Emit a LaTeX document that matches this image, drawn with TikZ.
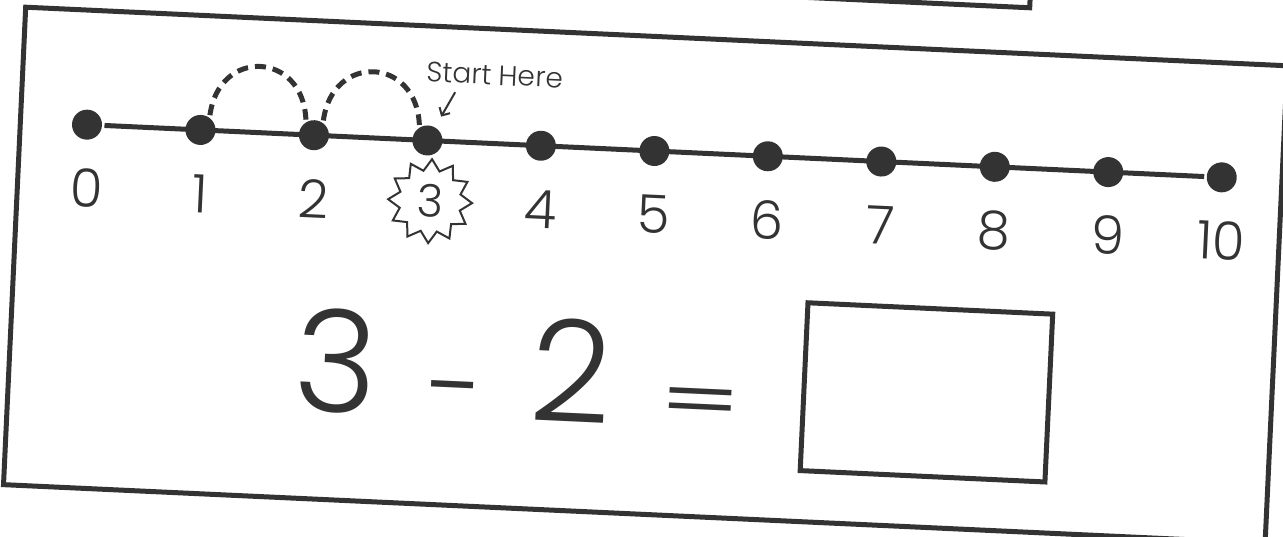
\documentclass[tikz,border=0pt]{standalone}
\usepackage{fontspec}
\setmainfont{Poppins Light}
\newfontfamily\eqfont{Poppins}
\usetikzlibrary{shapes.geometric,arrows.meta}
\definecolor{ink}{gray}{0.2}

\begin{document}
\begin{tikzpicture}[x=1pt, y=-1pt, color=ink, line width=5pt,
    dot/.style={circle, fill=ink, inner sep=0pt, minimum size=30pt},
    numlabel/.style={anchor=base, font=\fontsize{53}{53}\selectfont},
    jump/.style={dash pattern=on 11pt off 7pt},
    bigsum/.style={anchor=base, font=\fontsize{142}{142}\selectfont}]
  \useasboundingbox (0,0) rectangle (1283,537);
  \clip (0,0) rectangle (1283,537);

  \begin{scope}[rotate=-2.66, transform shape]
    \draw (650,-200) rectangle (1029,-40);
    \draw (26,6) rectangle (1289,484);

    \foreach \i in {0,...,10}
      \node[dot] (d\i) at ({92.7+113.6*\i},120.5) {};
    \draw (d0) -- (d10);

    \foreach \i in {0,1,2,4,5,6,7,8,9,10}
      \node[numlabel] (n\i) at ({95+113.6*\i},203) {\i};
    \node[star, star points=12, star point ratio=1.35, draw, line width=2pt,
          minimum size=84pt, inner sep=0pt, font=\fontsize{45}{45}\selectfont]
      (n3) at (439,181) {3};

    \draw[jump] (d1.60) .. controls +(6,-68) and +(-6,-68) .. (d2.120);
    \draw[jump] (d2.60) .. controls +(6,-68) and +(-6,-68) .. (d3.120);

    \node[font=\fontsize{28}{28}\selectfont] (start) at (498,52) {Start Here};
    \coordinate (hint) at (459,71);
    \draw[line width=2pt, -{Straight Barb[length=6pt]}, shorten >=10pt] (hint) -- (d3);

    \node[bigsum] (a) at (353,396) {3};
    \node[bigsum, font=\fontsize{108}{108}\selectfont] (minus) at (473.5,403) {-};
    \node[bigsum] (b) at (588.5,396) {2};
    \node[bigsum, font=\eqfont\fontsize{119}{119}\selectfont, yscale=0.6] (eq) at (718.7,393) {=};
    \node[draw, minimum width=245pt, minimum height=168pt] (ans) at (943.7,349) {};
  \end{scope}
\end{tikzpicture}
\end{document}
